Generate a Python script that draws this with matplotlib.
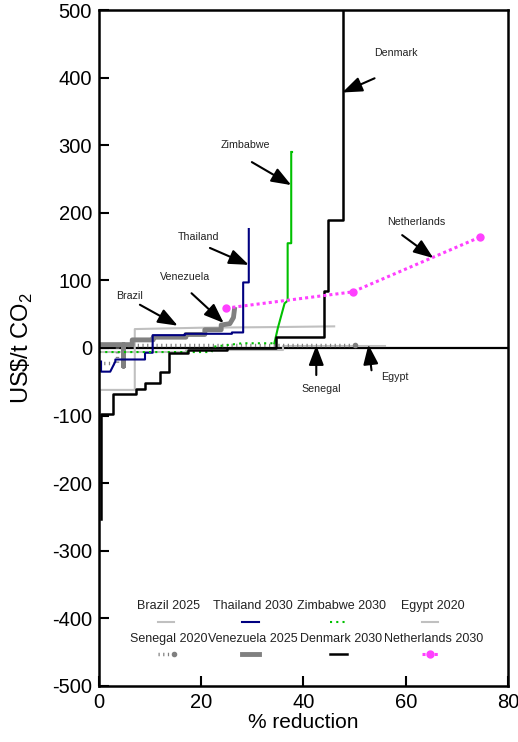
import matplotlib
matplotlib.use("Agg")
import matplotlib.pyplot as plt

plt.rcParams['font.family'] = ['Liberation Sans', 'DejaVu Sans']
plt.rcParams['axes.unicode_minus'] = False
plt.rcParams['mathtext.fontset'] = 'custom'
plt.rcParams['mathtext.rm'] = 'Liberation Sans'

# step curves (% reduction, US$/t CO2)
brazil_x = [0.2, 0.2, 7.0, 7.0, 20.0, 35.0, 46.0]
brazil_y = [-200, -62, -62, 28, 30, 31, 32]

thailand_x = [0.4, 0.4, 2.2, 3.2, 3.2, 9.0, 9.0, 10.5, 10.5, 16.8, 16.8, 26.0, 26.0, 28.2, 28.2, 29.3, 29.3]
thailand_y = [-20, -35, -35, -20, -17, -17, -7, -7, 19, 19, 21, 21, 23, 23, 97, 97, 176]

zimbabwe_x = [0.0, 22.0, 22.5, 28.0, 34.3, 35.0, 36.3, 36.9, 36.9, 37.6, 37.6, 38.6]
zimbabwe_y = [-6, -6, 2, 7, 7, 30, 66, 70, 155, 155, 290, 290]
zimbabwe_solid_from = 4

egypt_x = [0.0, 17.0, 17.0, 36.0, 36.0, 56.0]
egypt_y = [-6, -6, -3, -3, 3, 3]

senegal_x = [0.0, 3.5, 3.5, 50.0]
senegal_y = [-22, -22, 4, 4]

venezuela_x = [0.0, 4.8, 4.8, 4.8, 6.5, 6.5, 10.6, 10.6, 17.0, 17.0, 20.7, 20.7, 23.9, 23.9, 25.6, 26.3, 26.5]
venezuela_y = [5, 5, -27, 5, 5, 12, 12, 16, 16, 20, 20, 27, 27, 34, 36, 45, 57]

denmark_x = [0.3, 0.3, 2.7, 2.7, 7.3, 7.3, 9.0, 9.0, 11.9, 11.9, 13.7, 13.7, 17.4, 17.4, 25.0, 25.0,
             34.7, 34.7, 44.0, 44.0, 44.7, 44.7, 47.8, 47.8]
denmark_y = [-253, -98, -98, -68, -68, -60, -60, -52, -52, -36, -36, -7, -7, -3, -3, 0,
             0, 17, 17, 85, 85, 189, 189, 520]

netherlands_x = [24.9, 49.6, 74.5]
netherlands_y = [59, 83, 164]

# country labels: (text, label x, label y, arrow tail, arrow tip)
labels = [
    ("Denmark", 58.1, 436, (53.9, 399), (47.6, 378)),
    ("Zimbabwe", 28.7, 300, (29.9, 275), (37.6, 241)),
    ("Thailand", 19.5, 164, (21.7, 148), (29.3, 123)),
    ("Venezuela", 16.8, 105, (18.1, 81), (24.4, 37)),
    ("Brazil", 6.0, 77, (8.0, 64), (15.4, 33)),
    ("Netherlands", 62.0, 186, (59.3, 167), (65.4, 133)),
    ("Senegal", 43.5, -61, (42.5, -40), (42.5, 4)),
    ("Egypt", 57.8, -43, (53.3, -33), (52.7, 5)),
]

fig = plt.figure(figsize=(5.18, 7.42), dpi=100)
ax = fig.add_axes([0.1911, 0.0755, 0.7896, 0.911])

ax.axhline(0, color='black', lw=1.6, zorder=1)

styles = {}
styles['Brazil 2025'] = dict(color='#c0c0c0', lw=1.5, ls='-')
styles['Thailand 2030'] = dict(color='#000080', lw=1.5, ls='-')
styles['Zimbabwe 2030'] = dict(color='#00c000', lw=1.5, ls=(0, (1, 2)))
styles['Egypt 2020'] = dict(color='#c0c0c0', lw=1.5, ls='-')
styles['Senegal 2020'] = dict(color='#808080', lw=2.5, ls=(0, (0.35, 1.0)))
styles['Venezuela 2025'] = dict(color='#808080', lw=3.5, ls='-')
styles['Denmark 2030'] = dict(color='black', lw=1.8, ls='-')
styles['Netherlands 2030'] = dict(color='#ff40ff', lw=2.2, ls=(0, (1, 1)))

ax.plot(egypt_x, egypt_y, **styles['Egypt 2020'])
ax.plot(brazil_x, brazil_y, **styles['Brazil 2025'])
ax.plot(senegal_x, senegal_y, **styles['Senegal 2020'])
ax.plot(senegal_x[-1:], senegal_y[-1:], 'o', color='#808080', ms=3)
ax.plot(venezuela_x, venezuela_y, **styles['Venezuela 2025'])
ax.plot(thailand_x, thailand_y, **styles['Thailand 2030'])
ax.plot(zimbabwe_x[:zimbabwe_solid_from + 1], zimbabwe_y[:zimbabwe_solid_from + 1], **styles['Zimbabwe 2030'])
ax.plot(zimbabwe_x[zimbabwe_solid_from:-1], zimbabwe_y[zimbabwe_solid_from:-1], color='#00c000', lw=1.5)
ax.plot(zimbabwe_x[-2:], zimbabwe_y[-2:], **styles['Zimbabwe 2030'])
ax.plot(denmark_x, denmark_y, **styles['Denmark 2030'])
ax.plot(netherlands_x, netherlands_y, marker='o', ms=5, **styles['Netherlands 2030'])

for text, tx, ty, tail, tip in labels:
    ax.text(tx, ty, text, fontsize=7.7, color='#222222', ha='center', va='center')
    ax.annotate('', xy=tip, xytext=tail,
                arrowprops=dict(arrowstyle='-|>,head_length=1.0,head_width=0.38',
                                color='black', lw=1.5, shrinkA=0, shrinkB=0,
                                mutation_scale=12))

# legend: text above a short sample line, 4 columns x 2 rows
legend_names = ['Brazil 2025', 'Thailand 2030', 'Zimbabwe 2030', 'Egypt 2020',
                'Senegal 2020', 'Venezuela 2025', 'Denmark 2030', 'Netherlands 2030']
col_x = [0.171, 0.377, 0.593, 0.817]
row_text_y = [0.119, 0.0695]
row_line_y = [0.095, 0.047]
for i, name in enumerate(legend_names):
    c, r = i % 4, i // 4
    ax.text(col_x[c], row_text_y[r], name, transform=ax.transAxes, fontsize=9,
            ha='center', va='center', color='#222222')
    hx = [col_x[c] - 0.027, col_x[c] + 0.013]
    hy = [row_line_y[r]] * 2
    st = styles[name]
    if name == 'Netherlands 2030':
        ax.plot(hx, hy, transform=ax.transAxes, clip_on=False, **st)
        ax.plot([sum(hx) / 2], hy[:1], 'o', color=st['color'], ms=5, transform=ax.transAxes)
    elif name == 'Senegal 2020':
        ax.plot(hx, hy, transform=ax.transAxes, clip_on=False, **st)
        ax.plot(hx[1:], hy[:1], 'o', color=st['color'], ms=3, transform=ax.transAxes)
    else:
        ax.plot(hx, hy, transform=ax.transAxes, clip_on=False, **st)

ax.set_xlim(0, 80)
ax.set_ylim(-500, 500)
ax.set_xticks([0, 20, 40, 60, 80])
ax.set_yticks(range(-500, 501, 100))
ax.tick_params(direction='in', length=7, width=1.5, labelsize=14.5, pad=5)
for sp in ax.spines.values():
    sp.set_linewidth(1.8)
ax.set_xlabel('% reduction', fontsize=15, labelpad=1)
ax.set_ylabel(r'US\$/t CO$_2$', fontsize=17, labelpad=12)

fig.savefig('out.png', dpi=100)
